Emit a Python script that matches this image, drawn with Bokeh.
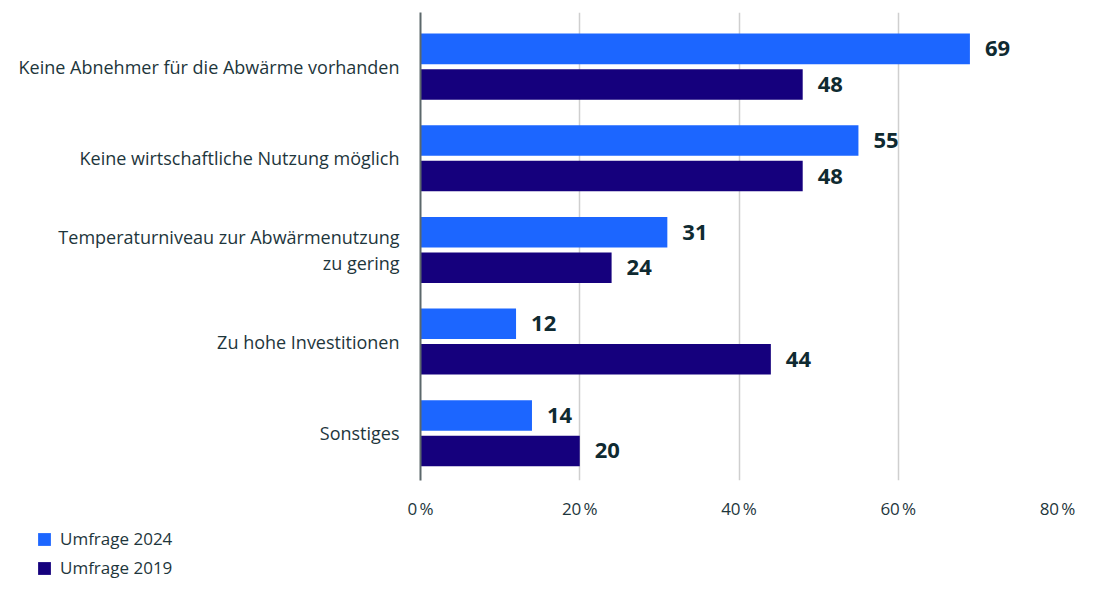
import numpy as np
from bokeh.plotting import figure
from bokeh.layouts import column
from bokeh.models import ColumnDataSource, Range1d, FixedTicker, Legend, LegendItem
from bokeh.transform import dodge
from bokeh.core.properties import value
from bokeh.embed import file_html
from bokeh.resources import INLINE

categories = [
    "Keine Abnehmer für die Abwärme vorhanden",
    "Keine wirtschaftliche Nutzung möglich",
    "Temperaturniveau zur Abwärmenutzung\nzu gering",
    "Zu hohe Investitionen",
    "Sonstiges",
]
umfrage_2024 = [69, 55, 31, 12, 14]
umfrage_2019 = [48, 48, 24, 44, 20]
x_ticks = [0, 20, 40, 60, 80]
x_tick_labels = ["0\u202f%", "20\u202f%", "40\u202f%", "60\u202f%", "80\u202f%"]
series_names = ["Umfrage 2024", "Umfrage 2019"]

BLUE = "#1c66ff"
NAVY = "#15007d"
TEXT = "#1e363c"
VAL = "#0f2a31"
FONT = "Open Sans"

pos = list(range(len(categories)))
src = ColumnDataSource(dict(
    pos=pos,
    v24=umfrage_2024,
    v19=umfrage_2019,
    t24=[str(v) for v in umfrage_2024],
    t19=[str(v) for v in umfrage_2019],
))

W = 1077
H_MAIN = 522
H_LEG = 57

p = figure(width=W, height=H_MAIN, output_backend="svg", toolbar_location=None,
           x_range=Range1d(0, 80), y_range=Range1d(4.516, -0.591),
           min_border_left=420, min_border_right=20, min_border_top=12,
           min_border_bottom=35)
p.frame_align = False
p.outline_line_color = None
p.background_fill_color = "white"
p.border_fill_color = "white"

off = 0.194
bh = 0.333
r24 = p.hbar(y=dodge("pos", -off, range=p.y_range), right="v24", left=0, height=bh,
             source=src, fill_color=BLUE, line_color=None)
r19 = p.hbar(y=dodge("pos", off, range=p.y_range), right="v19", left=0, height=bh,
             source=src, fill_color=NAVY, line_color=None)

for xf, tf, o in (("v24", "t24", -off), ("v19", "t19", off)):
    p.text(x=xf, y=dodge("pos", o, range=p.y_range), text=tf, source=src,
           x_offset=15, text_baseline="middle", text_align="left",
           text_font=value(FONT), text_font_style="bold", text_font_size="22px",
           text_color=VAL)

# x axis
p.xaxis.ticker = FixedTicker(ticks=x_ticks)
p.xaxis.major_label_overrides = {t: l for t, l in zip(x_ticks, x_tick_labels)}
p.xaxis.axis_line_color = None
p.xaxis.major_tick_line_color = None
p.xaxis.minor_tick_line_color = None
p.xaxis.major_label_standoff = 10
p.xaxis.major_label_text_font = FONT
p.xaxis.major_label_text_font_size = "17px"
p.xaxis.major_label_text_color = TEXT

# y axis
p.yaxis.ticker = FixedTicker(ticks=pos)
p.yaxis.major_label_overrides = {i: c for i, c in enumerate(categories)}
p.yaxis.axis_line_color = "#5c686b"
p.yaxis.axis_line_width = 2
p.yaxis.major_tick_line_color = None
p.yaxis.minor_tick_line_color = None
p.yaxis.major_label_standoff = 15
p.yaxis.major_label_text_font = FONT
p.yaxis.major_label_text_font_size = "18px"
p.yaxis.major_label_text_color = TEXT
p.yaxis.major_label_text_align = "right"
p.yaxis.major_label_text_line_height = 1.05

p.xgrid.ticker = FixedTicker(ticks=x_ticks[1:])
p.xgrid.grid_line_color = "#cfcfcf"
p.xgrid.grid_line_width = 1.5
p.ygrid.grid_line_color = None

# legend in its own strip below the chart (bars kept out of its view)
pl = figure(width=W, height=H_LEG, output_backend="svg", toolbar_location=None,
            x_axis_location=None, y_axis_location=None,
            x_range=Range1d(0, 80), y_range=Range1d(100, 101),
            min_border_left=0, min_border_right=0, min_border_top=0, min_border_bottom=0)
pl.frame_align = False
pl.outline_line_color = None
pl.xgrid.grid_line_color = None
pl.ygrid.grid_line_color = None
l24 = pl.hbar(y="pos", right="v24", left=0, height=bh, source=src,
              fill_color=BLUE, line_color=None)
l19 = pl.hbar(y="pos", right="v19", left=0, height=bh, source=src,
              fill_color=NAVY, line_color=None)
legend = Legend(items=[LegendItem(label=series_names[0], renderers=[l24], index=0),
                       LegendItem(label=series_names[1], renderers=[l19], index=0)],
                location=(36, 0), orientation="vertical",
                padding=0, margin=0, spacing=6,
                glyph_width=16, glyph_height=16, label_standoff=8,
                label_text_font=FONT, label_text_font_size="17px",
                label_text_color=TEXT, label_height=16,
                border_line_color=None, background_fill_alpha=0)
pl.add_layout(legend, "center")

layout = column(p, pl, spacing=0)
open("out.html", "w").write(file_html(layout, INLINE))
